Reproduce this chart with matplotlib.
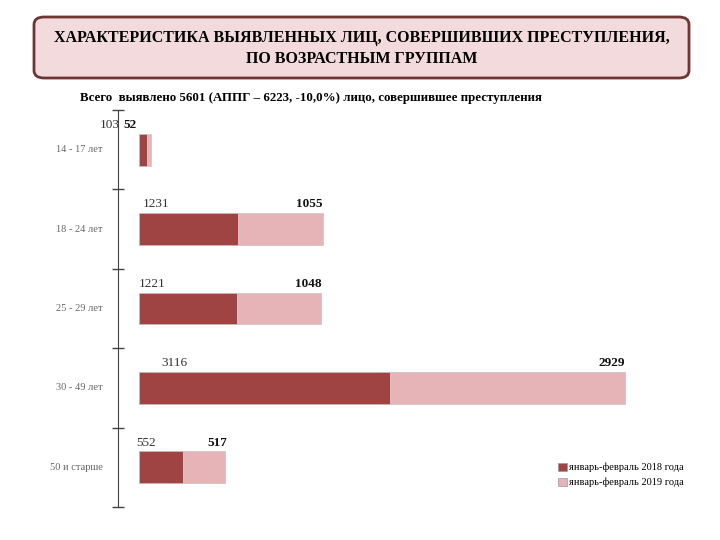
import matplotlib.pyplot as plt
from matplotlib.patches import FancyBboxPatch, Patch

# данные
groups = ['14 - 17 лет', '18 - 24 лет', '25 - 29 лет', '30 - 49 лет', '50 и старше']
y2018 = [103, 1231, 1221, 3116, 552]
y2019 = [52, 1055, 1048, 2929, 517]
series_names = ['январь-февраль 2018 года', 'январь-февраль 2019 года']

title = 'ХАРАКТЕРИСТИКА ВЫЯВЛЕННЫХ ЛИЦ, СОВЕРШИВШИХ ПРЕСТУПЛЕНИЯ,\nПО ВОЗРАСТНЫМ ГРУППАМ'
subtitle = 'Всего  выявлено 5601 (АППГ – 6223, -10,0%) лицо, совершившее преступления'

# смещения подписей (в пунктах), подобраны по картинке
off2018 = [-28, 3, 0, 16, -2]
off2019 = [-10.5, 0, 0, 0, 2]

c_dark = '#a04343'
c_light = '#e6b4b6'
serif = 'Liberation Serif'

fig = plt.figure(figsize=(7.2, 5.4), dpi=100)

# рамка заголовка
box = FancyBboxPatch((34 / 720, 1 - 78 / 540), 655 / 720, 61 / 540,
                     boxstyle='round,pad=0,rounding_size=0.014',
                     transform=fig.transFigure, facecolor='#f3dadc',
                     edgecolor='#6e3535', linewidth=2)
fig.patches.append(box)
fig.text(362 / 720, 1 - 48.5 / 540, title, ha='center', va='center',
         fontsize=11.5, fontweight='bold', family=serif, linespacing=1.45)
fig.text(80 / 720, 1 - 97.5 / 540, subtitle, ha='left', va='center',
         fontsize=9.3, fontweight='bold', family=serif)

ax = fig.add_axes([118 / 720, 33 / 540, 576 / 720, 397 / 540])
ypos = list(range(len(groups)))
ax.barh(ypos, y2018, height=0.4, left=0, color=c_dark, edgecolor='#c9b8b8',
        linewidth=0.6, label=series_names[0])
ax.barh(ypos, y2019, height=0.4, left=y2018, color=c_light, edgecolor='#cfc6c6',
        linewidth=0.6, label=series_names[1])

for i in ypos:
    ax.annotate(str(y2018[i]), (0, i - 0.2), xytext=(off2018[i], 2),
                textcoords='offset points', ha='left', va='bottom',
                fontsize=9.5, family=serif, color='#333333')
    ax.annotate(str(y2019[i]), (y2018[i] + y2019[i], i - 0.2), xytext=(off2019[i], 2),
                textcoords='offset points', ha='right', va='bottom',
                fontsize=9.5, family=serif, fontweight='bold', color='#111111')
    # подписи групп слева от оси
    ax.annotate(groups[i], (-260, i), xytext=(-11, 0), textcoords='offset points',
                ha='right', va='center', fontsize=7.5, family=serif, color='#666666',
                annotation_clip=False)

ax.set_xlim(-260, 6900)
ax.set_ylim(len(groups) - 0.5, -0.5)
ax.set_yticks([i - 0.5 for i in range(len(groups) + 1)])
ax.set_yticklabels([])
ax.tick_params(axis='y', which='major', direction='inout', length=9, width=1, color='#444444')
ax.set_xticks([])
for s in ['top', 'right', 'bottom']:
    ax.spines[s].set_visible(False)
ax.spines['left'].set_position(('data', -260))
ax.spines['left'].set_color('#444444')

handles = [Patch(facecolor=c_dark, edgecolor='#999999', linewidth=0.5),
           Patch(facecolor=c_light, edgecolor='#999999', linewidth=0.5)]
fig.legend(handles, series_names, loc='center left',
           bbox_to_anchor=(553 / 720, 1 - 475 / 540), frameon=False,
           prop={'family': serif, 'size': 7.5}, handlelength=0.8, handleheight=0.8,
           handletextpad=0.2, labelspacing=0.5, borderpad=0)

fig.savefig('out.png', dpi=100)
